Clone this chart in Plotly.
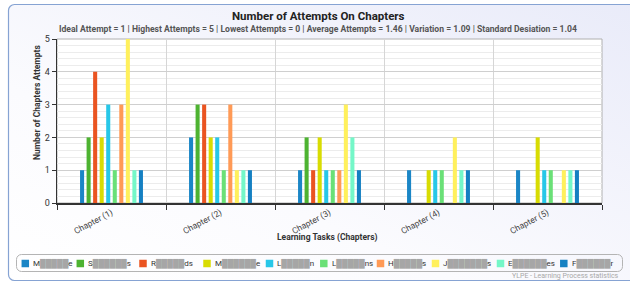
import base64
import plotly.graph_objects as go

chapters = ["Chapter (1)", "Chapter (2)", "Chapter (3)", "Chapter (4)", "Chapter (5)"]

# learner names are redacted in the reference: first/last letters kept, middle greyed out
name_first = ["M", "S", "R", "M", "L", "L", "H", "J", "E", "F"]
name_hidden = [5, 6, 5, 6, 5, 5, 5, 7, 6, 6]
name_last = ["e", "s", "ds", "e", "n", "ns", "s", "s", "es", "r"]

attempts = [
    [1, 2, 1, 1, 1],
    [2, 3, 2, 0, 0],
    [4, 3, 1, 0, 0],
    [2, 2, 2, 1, 2],
    [3, 2, 1, 1, 1],
    [1, 1, 1, 1, 1],
    [3, 3, 1, 0, 0],
    [5, 1, 3, 2, 1],
    [1, 1, 2, 1, 1],
    [1, 1, 1, 1, 1],
]

colors = ["#1b86c6", "#4db331", "#ea5421", "#d8dc02", "#27c7e8",
          "#6ae077", "#ff9a56", "#fff05c", "#74f7c8", "#1580c2"]

title_text = "Number of Attempts On Chapters"
subtitle_text = ("Ideal Attempt = 1 | Highest Attempts = 5 | Lowest Attempts = 0 | "
                 "Average Attempts = 1.46 | Variation = 1.09 | Standard Desiation = 1.04")
x_title = "Learning Tasks (Chapters)"
y_title = "Number of Chapters Attempts"
credit = "YLPE - Learning Process statistics"

learner_names = [
    f"{a}<span style='color:#a6a6a6'>{'█' * n}</span>{b}"
    for a, n, b in zip(name_first, name_hidden, name_last)
]

FONT = "Roboto, Liberation Sans, DejaVu Sans, sans-serif"

W, H = 630, 282
L, R, T, B = 57, 28, 39, 79
PW, PH = W - L - R, H - T - B

# legend layout (pixel centres of the colour swatches)
legend_cx = [25.3, 80.3, 143.0, 207.0, 269.5, 323.8, 380.5, 435.5, 500.5, 563.8]
legend_cy = 263.5
swatch = 7.5


def px(x):
    return (x - L) / PW


def py(y):
    return (H - B - y) / PH


fig = go.Figure()
for name, vals, col in zip(learner_names, attempts, colors):
    fig.add_trace(go.Bar(x=chapters, y=vals, name=name, marker_color=col,
                         marker_line_width=0, showlegend=False))

svg = f'''<svg xmlns="http://www.w3.org/2000/svg" width="{W}" height="{H}" viewBox="0 0 {W} {H}">
<defs><linearGradient id="g" x1="0" y1="1" x2="1" y2="0">
<stop offset="0" stop-color="#ffffff"/><stop offset="0.35" stop-color="#fbfbfe"/><stop offset="1" stop-color="#e9ebf9"/></linearGradient></defs>
<rect x="8.5" y="4.5" width="640" height="276" rx="6" fill="url(#g)" stroke="#86a3d3" stroke-width="1.2"/>
<rect x="16.5" y="254.5" width="606" height="17" rx="5" fill="none" stroke="#b4b4b4" stroke-width="1"/>
</svg>'''
src = "data:image/svg+xml;base64," + base64.b64encode(svg.encode()).decode()

shapes = [dict(type="rect", xref="paper", yref="paper", x0=0, x1=1, y0=0, y1=1,
               fillcolor="white", line=dict(color="#b0b0b0", width=1), layer="below")]
annotations = [
    dict(text=f"<b>{title_text}</b>", xref="paper", yref="paper", x=px(318), y=py(16),
         showarrow=False, font=dict(size=11.5, color="#222222", family=FONT),
         xanchor="center", yanchor="middle"),
    dict(text=f"<b>{subtitle_text}</b>", xref="paper", yref="paper", x=px(318), y=py(29),
         showarrow=False, font=dict(size=8.6, color="#555555", family=FONT),
         xanchor="center", yanchor="middle"),
    dict(text=f"<b>{y_title}</b>", xref="paper", yref="paper", x=px(37), y=py(103),
         showarrow=False, textangle=-90, font=dict(size=8.5, color="#333333", family=FONT),
         xanchor="center", yanchor="middle"),
    dict(text=f"<b>{x_title}</b>", xref="paper", yref="paper", x=px(327), y=py(237),
         showarrow=False, font=dict(size=8.5, color="#333333", family=FONT),
         xanchor="center", yanchor="middle"),
    dict(text=credit, xref="paper", yref="paper", x=px(621), y=py(276),
         showarrow=False, font=dict(size=7, color="#a8a8a8", family=FONT),
         xanchor="right", yanchor="middle"),
]

for name, col, cx in zip(learner_names, colors, legend_cx):
    shapes.append(dict(type="rect", xref="paper", yref="paper",
                       x0=px(cx - swatch / 2), x1=px(cx + swatch / 2),
                       y0=py(legend_cy + swatch / 2), y1=py(legend_cy - swatch / 2),
                       fillcolor=col, line=dict(width=0), layer="above"))
    annotations.append(dict(text=name, xref="paper", yref="paper",
                            x=px(cx + swatch / 2 + 2), y=py(legend_cy),
                            showarrow=False, xanchor="left", yanchor="middle",
                            font=dict(size=8, color="#333333", family=FONT)))

fig.update_layout(
    width=W, height=H, autosize=False,
    margin=dict(l=L, r=R, t=T, b=B, pad=0),
    paper_bgcolor="white", plot_bgcolor="white",
    font=dict(family=FONT, size=9, color="#333333"),
    barmode="group", bargap=0.4, bargroupgap=0.38,
    showlegend=False, hovermode=False,
    images=[dict(source=src, xref="paper", yref="paper", x=px(0), y=py(0),
                 sizex=W / PW, sizey=H / PH, xanchor="left", yanchor="top",
                 sizing="stretch", layer="below")],
    shapes=shapes,
    annotations=annotations,
)

fig.update_xaxes(
    type="category", tickangle=-28, tickson="boundaries", ticks="outside", ticklen=5,
    tickcolor="#333333", showgrid=True, gridcolor="#d6d6d6", gridwidth=1,
    showline=True, linecolor="#333333", linewidth=1.5,
    tickfont=dict(size=8.5, color="#444444"), zeroline=False, automargin=False,
)
fig.update_yaxes(
    range=[0, 5], dtick=1, tick0=0, ticks="outside", ticklen=4, tickcolor="#333333",
    showgrid=True, gridcolor="#cfcfcf", gridwidth=1,
    minor=dict(dtick=0.2, showgrid=True, gridcolor="#ececec", ticks=""),
    showline=True, linecolor="#333333", linewidth=1.5, zeroline=False,
    tickfont=dict(size=9, color="#333333"), automargin=False,
)

fig.write_html("out.html", config={"displayModeBar": False, "staticPlot": True},
               post_script="document.body.style.margin='0px';document.body.style.overflow='hidden';")
